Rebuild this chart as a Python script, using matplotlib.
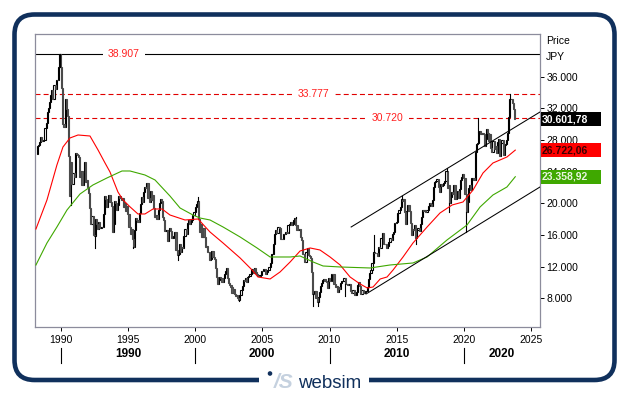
import numpy as np
import pandas as pd
import matplotlib
matplotlib.use('Agg')
import matplotlib.pyplot as plt
import matplotlib.transforms as mtransforms
from matplotlib.patches import FancyBboxPatch, Rectangle, Circle

plt.rcParams['font.family'] = ['Liberation Sans', 'DejaVu Sans']

# monthly closes, first candle is April 1988
first_month = '1988-04-01'
first_open = 26260
closes = [
    27256, 27418, 27769, 28340, 27911, 27924, 28029, 29579, 30159,                 # 1988
    31581, 31986, 32839, 33713, 34267, 33183, 34954, 34431, 35637, 35549, 37269, 38916,  # 1989
    37189, 34592, 29980, 29585, 33131, 31940, 31036, 25978, 20984, 25194, 22455, 23849,  # 1990
    23293, 26409, 26292, 26111, 25790, 23291, 24121, 22336, 23916, 25222, 22687, 22984,  # 1991
    22023, 21339, 19346, 17391, 18348, 15952, 15910, 18061, 17399, 16768, 17684, 16925,  # 1992
    17024, 16953, 18591, 20919, 20552, 19590, 20380, 21027, 20106, 19703, 16408, 17417,  # 1993
    20229, 19997, 19112, 19725, 20974, 20644, 20449, 20628, 19564, 19990, 19076, 19723,  # 1994
    18650, 17053, 16140, 16807, 15437, 14517, 16678, 18117, 17913, 17654, 18744, 19868,  # 1995
    20813, 20125, 21407, 22041, 21956, 22531, 20693, 20167, 21556, 20466, 21020, 19361,  # 1996
    18330, 18557, 18003, 19151, 20069, 20605, 20331, 18229, 17888, 16459, 16636, 15258,  # 1997
    16628, 16831, 16527, 15641, 15671, 15830, 16379, 14108, 13406, 13564, 14883, 13842,  # 1998
    14499, 14368, 15837, 16702, 16112, 17530, 17862, 17437, 17605, 17942, 18558, 18934,  # 1999
    19540, 19960, 20337, 17974, 16332, 17411, 15727, 16861, 15747, 14539, 14649, 13786,  # 2000
    13843, 12883, 12999, 13934, 13262, 12969, 11861, 10713, 9775, 10366, 10697, 10543,   # 2001
    9997, 10588, 11025, 11493, 11764, 10622, 9877, 9619, 9383, 8640, 9216, 8579,         # 2002
    8340, 8363, 7973, 7831, 8425, 9083, 9563, 10344, 10219, 10560, 10101, 10677,         # 2003
    10784, 11042, 11715, 11762, 11236, 11859, 11326, 11082, 10824, 10771, 10899, 11489,  # 2004
    11388, 11741, 11669, 11009, 11277, 11584, 11900, 12414, 13574, 13607, 14872, 16111,  # 2005
    16650, 16205, 17060, 16906, 15467, 15505, 15457, 16141, 16128, 16399, 16274, 17226,  # 2006
    17383, 17604, 17288, 17400, 17876, 18138, 17249, 16569, 16786, 16738, 15681, 15308,  # 2007
    13592, 13603, 12526, 13850, 14339, 13481, 13377, 13073, 11260, 8577, 8512, 8860,     # 2008
    7994, 7568, 8110, 8828, 9523, 9958, 10357, 10493, 10133, 10035, 9346, 10546,         # 2009
    10198, 10126, 11090, 11057, 9769, 9383, 9537, 8824, 9369, 9202, 9937, 10229,         # 2010
    10238, 10624, 9755, 9850, 9694, 9816, 9833, 8955, 8700, 8988, 8435, 8455,            # 2011
    8803, 9723, 10084, 9521, 8543, 9007, 8695, 8840, 8870, 8928, 9446, 10395,            # 2012
    11139, 11559, 12398, 13861, 13775, 13677, 13668, 13389, 14456, 14328, 15662, 16291,  # 2013
    14915, 14841, 14828, 14304, 14632, 15162, 15621, 15425, 16174, 16414, 17460, 17451,  # 2014
    17674, 18798, 19207, 19520, 20563, 20236, 20585, 18890, 17388, 19083, 19747, 19034,  # 2015
    17518, 16027, 16759, 16666, 17235, 15576, 16569, 16887, 16450, 17425, 18308, 19114,  # 2016
    19041, 19119, 18909, 19197, 19651, 20033, 19925, 19646, 20356, 22012, 22725, 22765,  # 2017
    23098, 22068, 21454, 22468, 22202, 22305, 22554, 22865, 24120, 21920, 22351, 20015,  # 2018
    20773, 21385, 21206, 22259, 20601, 21276, 21522, 20704, 21756, 22927, 23294, 23657,  # 2019
    23205, 21143, 18917, 20194, 21878, 22288, 21710, 23140, 23185, 22977, 26434, 27444,  # 2020
    27663, 28966, 29179, 28813, 28860, 28792, 27284, 28090, 29453, 28892, 27822, 28792,  # 2021
    27002, 26527, 27821, 26848, 27280, 26393, 27802, 28092, 25937, 27587, 27969, 26095,  # 2022
    27327, 27446, 28041, 28856, 30888, 33189, 33172, 32619, 31858, 30601.78,             # 2023
]

# visible wicks (month, extreme)
wick_months = ['1989-12', '1990-10', '1992-08', '1995-06', '1998-10', '2000-04', '2003-04',
               '2007-07', '2008-10', '2009-03', '2011-03', '2013-05', '2015-06', '2016-06',
               '2018-10', '2018-12', '2020-03', '2021-02', '2023-06']
wick_values = [38907, 19781, 14309, 14400, 12880, 20833, 7604,
               18297, 6994, 7055, 8227, 15942, 20952, 14864,
               24448, 18948, 16358, 30720, 33777]

# moving averages
red_years = [1988.16, 1988.98, 1989.72, 1990.17, 1990.69, 1991.29, 1992.18, 1992.78, 1993.30,
             1993.67, 1994.26, 1994.64, 1995.17, 1995.75, 1996.27, 1996.87, 1997.54, 1998.13,
             1999.25, 2000.22, 2001.11, 2002.08, 2003.35, 2004.24, 2004.68, 2005.58, 2006.32,
             2007.07, 2007.81, 2008.56, 2009.29, 2010.04, 2010.79, 2011.53, 2012.28, 2012.81,
             2013.24, 2013.77, 2014.28, 2014.73, 2015.47, 2016.21, 2017.26, 2018.22, 2019.12,
             2019.93, 2020.68, 2021.42, 2022.16, 2023.20, 2023.82]
red_values = [16755, 20420, 24842, 27117, 28254, 28633, 28507, 26738, 25095,
              23958, 21431, 20420, 19535, 18651, 18651, 19283, 19283, 18524,
              17893, 18019, 16376, 14986, 13091, 11575, 10690, 10437, 11322,
              12585, 13975, 14355, 14102, 13217, 12206, 10690, 9806, 9300,
              9426, 10437, 10690, 11575, 13217, 14986, 17008, 18777, 19788,
              20167, 21683, 23832, 25095, 25853, 26722.06]

green_years = [1988.16, 1988.98, 1989.72, 1990.47, 1991.44, 1992.40, 1993.44, 1994.56, 1995.16,
               1996.27, 1997.02, 1998.13, 1998.88, 1999.84, 2000.36, 2001.11, 2002.08, 2003.35,
               2004.61, 2005.58, 2007.07, 2007.81, 2008.78, 2009.52, 2010.79, 2013.02, 2014.50,
               2016.21, 2017.26, 2018.74, 2020.23, 2021.20, 2022.16, 2023.20, 2023.82]
green_values = [12206, 14986, 17008, 19156, 21178, 22315, 23200, 24084, 24084,
                23579, 22947, 20925, 19409, 18524, 18145, 17893, 17008, 15744,
                14355, 13217, 13217, 13344, 12585, 12080, 11954, 11828, 12206,
                12459, 13217, 15365, 17261, 19535, 21052, 22063, 23358.92]

# trend channel
upper_years = [2011.61, 2025.66]
upper_values = [17008, 31539]
lower_years = [2012.72, 2025.66]
lower_values = [8542, 22063]

# horizontal levels
level_values = [38907, 33777, 30720]
level_texts = ['38.907', '33.777', '30.720']
level_label_years = [1994.7, 2008.8, 2014.35]

last_values = [30601.78, 26722.06, 23358.92]
last_texts = ['30.601,78', '26.722,06', '23.358,92']
last_box_colors = ['#000000', '#ff0000', '#3fa800']
last_text_colors = ['white', '#3a0000', '#e8f5e0']

y_ticks = [8000, 12000, 16000, 20000, 24000, 28000, 32000, 36000]
x_ticks = [1990, 1995, 2000, 2005, 2010, 2015, 2020, 2025]
decades = [1990, 2000, 2010, 2020]

navy = '#10305c'

fig = plt.figure(figsize=(6.29, 3.95), dpi=100)
ax = fig.add_axes([35 / 629, 68 / 395, 505 / 629, 293 / 395])
ax.set_xlim(1988.09, 2025.66)
ax.set_ylim(4370, 41395)

dates = pd.date_range(first_month, periods=len(closes), freq='MS')
x = np.array(dates.year + (dates.month - 1) / 12.0)
c = np.array(closes, dtype=float)
o = np.concatenate([[first_open], c[:-1]])
up = c >= o
w = 0.085
ax.bar(x[up], (c - o)[up], bottom=o[up], width=w, facecolor='white',
       edgecolor='black', linewidth=0.8, zorder=2)
ax.bar(x[~up], (o - c)[~up], bottom=c[~up], width=w, facecolor='#5a5a5a',
       edgecolor='#4a4a4a', linewidth=0.8, zorder=2)

month_pos = {d.strftime('%Y-%m'): i for i, d in enumerate(dates)}
for m, v in zip(wick_months, wick_values):
    i = month_pos[m]
    edge = max(o[i], c[i]) if v > max(o[i], c[i]) else min(o[i], c[i])
    ax.plot([x[i], x[i]], [edge, v], color='black', lw=0.8, zorder=2)

ax.plot(red_years, red_values, color='#ff0000', lw=0.8, zorder=3)
ax.plot(green_years, green_values, color='#3fa800', lw=0.8, zorder=3)
ax.plot(upper_years, upper_values, color='black', lw=0.75, zorder=3)
ax.plot(lower_years, lower_values, color='black', lw=0.75, zorder=3)

for i, (lv, lt, ly) in enumerate(zip(level_values, level_texts, level_label_years)):
    if i == 0:
        ax.axhline(lv, color='black', lw=0.8, zorder=1)
    else:
        ax.axhline(lv, color='#e00000', lw=0.8, ls=(0, (4.5, 2.8)), zorder=1)
    ax.text(ly, lv, lt, color='#ff2020', fontsize=7.5, ha='center', va='center', zorder=4,
            bbox=dict(boxstyle='square,pad=0.5', facecolor='white', edgecolor='none'))

# axes styling
for s in ax.spines.values():
    s.set_color('#8c8c9c')
    s.set_linewidth(0.9)
ax.yaxis.tick_right()
ax.set_yticks(y_ticks)
ax.set_yticklabels([f'{v:,.0f}'.replace(',', '.') for v in y_ticks])
ax.tick_params(axis='y', length=3, width=0.7, pad=1.5, labelsize=7.5, colors='black')
ax.set_xticks(x_ticks)
ax.set_xticklabels([str(v) for v in x_ticks])
ax.tick_params(axis='x', length=3, width=0.7, pad=2.5, labelsize=7.5, colors='black')

# last value boxes on the right
blend = mtransforms.blended_transform_factory(ax.transAxes, ax.transData)
for v, t, bc, tc in zip(last_values, last_texts, last_box_colors, last_text_colors):
    ax.add_patch(Rectangle((1.002, v - 880), 60 / 505, 1760, transform=blend,
                           facecolor=bc, edgecolor='none', clip_on=False, zorder=5))
    ax.text(1.004, v, t, transform=blend, color=tc, fontsize=7.5, fontweight='bold',
            ha='left', va='center', clip_on=False, zorder=6)

fig.text(546 / 629, 1 - 41 / 395, 'Price', fontsize=7.5, ha='left', va='center')
fig.text(546 / 629, 1 - 57 / 395, 'JPY', fontsize=7.5, ha='left', va='center')

# decade row under the years
x0, x1 = ax.get_xlim()
for d in decades:
    mid = (max(d, x0) + min(d + 10, x1)) / 2
    ax.text(mid, -0.092, str(d), transform=mtransforms.blended_transform_factory(ax.transData, ax.transAxes),
            fontsize=8.5, fontweight='bold', ha='center', va='center', clip_on=False)
    ax.plot([d, d], [-0.072, -0.123], transform=mtransforms.blended_transform_factory(ax.transData, ax.transAxes),
            color='black', lw=0.8, clip_on=False)

# rounded frame with logo
ident = mtransforms.IdentityTransform()
fig.add_artist(FancyBboxPatch((14.5, 15), 600, 365.5, boxstyle='round,pad=0,rounding_size=20',
                              transform=ident, facecolor='none', edgecolor=navy, linewidth=3.3))
fig.add_artist(Rectangle((259, 5), 110, 20, transform=ident, facecolor='white', edgecolor='none', zorder=3))
fig.add_artist(Circle((270, 21.5), 2.3, transform=ident, facecolor=navy, edgecolor='none', zorder=4))
fig.text(284 / 629, 6.5 / 395, '/S', fontsize=15, fontweight='bold', style='italic', color='#c5d1df',
         ha='center', va='baseline', zorder=4)
fig.text(298 / 629, 6.5 / 395, 'websim', fontsize=13.5, color=navy, ha='left', va='baseline', zorder=4)

fig.savefig('out.png', dpi=100)
